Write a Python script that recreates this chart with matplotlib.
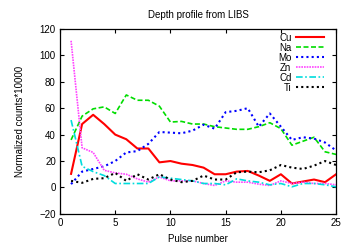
import matplotlib
matplotlib.use("Agg")
import matplotlib.pyplot as plt

pulses = list(range(1, 26))
cu = [10.3, 48, 55, 48, 40, 36.5, 29.5, 29.5, 19, 20, 18, 17, 15, 10, 10, 12, 12.5, 9, 5, 10, 3, 4.5, 6, 4, 10]
na = [36, 54, 59.5, 61, 56, 70, 66, 66, 61.5, 49.5, 50, 48, 48, 46, 45, 44, 44, 46, 49, 44.5, 32, 35, 38, 27, 25]
mo = [2.5, 12, 14, 16, 20, 26.5, 27.5, 33, 42, 41.5, 41, 43, 47.5, 44.5, 57, 58, 60, 46, 56, 46, 36, 38, 37, 34, 28]
zn = [111, 30, 26.5, 13, 11, 10, 6.5, 4, 8, 5, 5, 5, 3, 1.5, 5, 4, 4, 2.5, 1.5, 5, 3, 4, 3, 3, 2]
cd = [51, 16, 12, 9, 3, 3, 3, 3, 8, 7, 6, 5, 3, 3, 2, 6.5, 5, 4, 2, 3, 0.5, 3, 3, 2, 0.5]
ti = [5, 3.5, 6.5, 7, 11, 5, 10, 6, 10, 6, 4, 5, 9, 6, 6, 11.5, 12, 11.5, 13, 17, 15, 14, 16.5, 20, 17]

labels = ["Cu", "Na", "Mo", "Zn", "Cd", "Ti"]
title = "Depth profile from LIBS"
xlabel = "Pulse number"
ylabel = "Normalized counts*10000"

plt.rcParams['font.family'] = ['Liberation Sans', 'DejaVu Sans']
fig = plt.figure(figsize=(3.49, 2.45), dpi=100)
ax = fig.add_axes([0.172, 0.127, 0.791, 0.755])

styles = [
    dict(color="#ff0000", linestyle="-", linewidth=1.5),
    dict(color="#00dd00", linestyle=(0, (3, 1.5)), linewidth=1.2),
    dict(color="#0000ff", linestyle=(0, (1, 1.5)), linewidth=1.5),
    dict(color="#ff44ff", linestyle=(0, (1, 0.6)), linewidth=1.2),
    dict(color="#00dddd", linestyle=(0, (4, 1.5, 1, 1.5)), linewidth=1.2),
    dict(color="#000000", linestyle=(0, (1, 1.5)), linewidth=1.5),
]
for series, lab, st in zip([cu, na, mo, zn, cd, ti], labels, styles):
    ax.plot(pulses, series, label=lab, **st)

ax.set_xlim(0, 25)
ax.set_ylim(-20, 120)
ax.set_xticks([0, 5, 10, 15, 20, 25])
ax.set_yticks(range(-20, 121, 20))
ax.tick_params(direction="in", top=True, right=True, labelsize=7, length=3, width=0.8, pad=3)
for s in ax.spines.values():
    s.set_linewidth(0.9)
ax.set_title(title, fontsize=7, pad=8)
ax.set_xlabel(xlabel, fontsize=7, labelpad=4)
ax.set_ylabel(ylabel, fontsize=7, labelpad=10)
ax.legend(loc="upper right", bbox_to_anchor=(0.972, 1.0), fontsize=7, frameon=False,
          markerfirst=False, handlelength=2.9, labelspacing=0.0, borderaxespad=0.0,
          handletextpad=0.5)
fig.savefig("out.png", dpi=100)
